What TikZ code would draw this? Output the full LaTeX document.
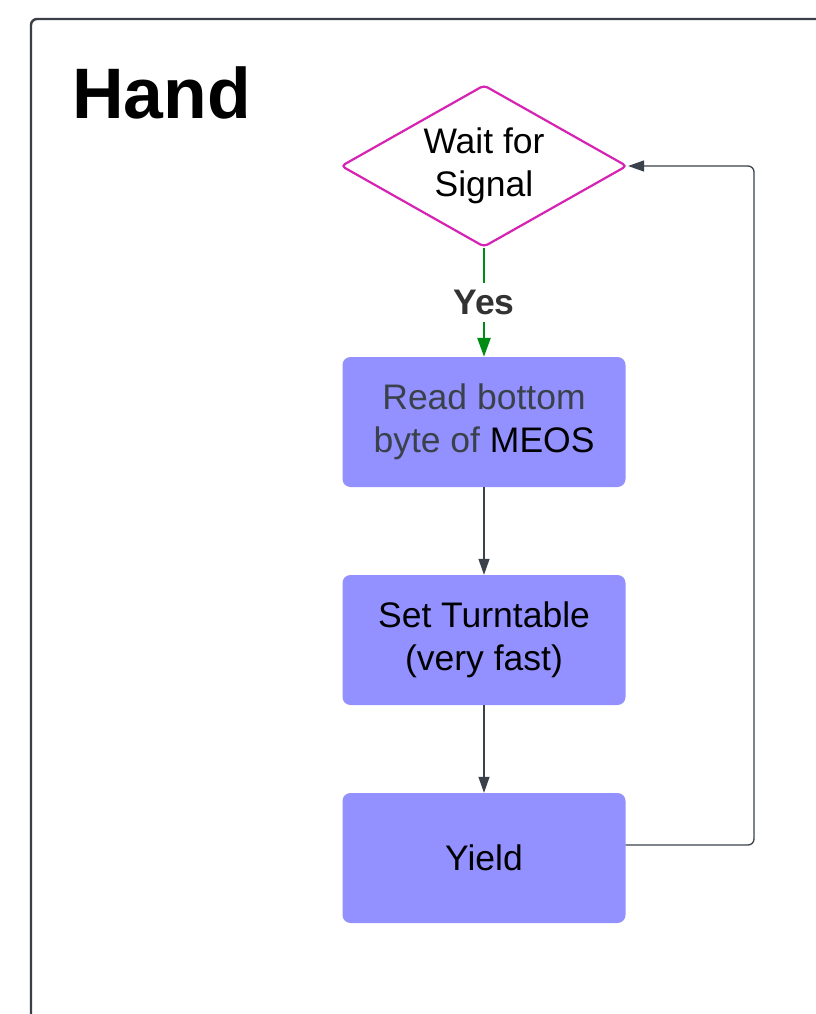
\documentclass[tikz,border=0pt]{standalone}
\usepackage{fontspec}
\setmainfont{Liberation Sans}
\usetikzlibrary{shapes.geometric,arrows.meta}

\definecolor{frameclr}{HTML}{3A3F47}
\definecolor{boxfill}{HTML}{9391FF}
\definecolor{decision}{HTML}{D623B3}
\definecolor{yesgreen}{HTML}{008C14}
\definecolor{linkclr}{HTML}{3A414A}
\definecolor{softtext}{HTML}{3B414B}
\definecolor{labeltext}{HTML}{333333}

\tikzset{
  bodytext/.style={font=\fontsize{35.5}{42.5}\selectfont, align=center},
  process/.style={bodytext, rectangle, rounded corners=8pt, fill=boxfill,
    minimum width=283pt, minimum height=130pt, inner sep=0pt},
  decide/.style={bodytext, diamond, aspect=1.765, draw=decision, line width=2.2pt,
    rounded corners=4pt, fill=white, minimum width=286pt, minimum height=162pt, inner sep=0pt},
  flow/.style={draw=linkclr, line width=1.3pt, rounded corners=6pt,
    -{Triangle[length=16pt,width=11pt]}},
  yesflow/.style={draw=yesgreen, line width=2.8pt,
    -{Triangle[length=19pt,width=13pt]}},
  yeslabel/.style={font=\fontsize{35.5}{42}\selectfont\bfseries, text=labeltext,
    fill=white, inner xsep=3pt, inner ysep=7pt}
}

\begin{document}
\begin{tikzpicture}[x=1pt,y=-1pt]
  \useasboundingbox (0,0) rectangle (816,1014);
  \clip (0,0) rectangle (816,1014);
  \fill[white] (0,0) rectangle (816,1014);

  % outer frame, running off the right and bottom edges
  \draw[frameclr, line width=2.4pt, rounded corners=6pt] (31,19) rectangle (900,1100);

  % title
  \node[anchor=base west, inner sep=0pt, font=\fontsize{71.5}{84}\selectfont\bfseries] (title) at (72,119) {Hand};

  % flow nodes
  \node[decide] (wait) at (484,166) {Wait for\\Signal};
  \node[process] (read) at (484,422) {\textcolor{softtext}{Read bottom}\\\textcolor{softtext}{byte of} MEOS};
  \node[process] (turn) at (484,640) {Set Turntable\\(very fast)};
  \node[process] (yield) at (484,858) {Yield};

  % corner of the return path, level with the decision's right tip
  \coordinate (loop) at (wait.east -| 754,0);

  % connectors
  \draw[yesflow] (wait.south) -- node[yeslabel] (yes) {Yes} (read.north);
  \draw[flow] (read.south) -- (turn.north);
  \draw[flow] (turn.south) -- (yield.north);
  \draw[flow] ([yshift=13pt]yield.east) -| (loop) -- (wait.east);
\end{tikzpicture}
\end{document}
